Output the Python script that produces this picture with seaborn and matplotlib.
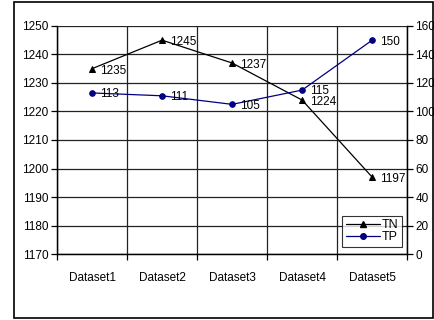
import matplotlib
matplotlib.use("Agg")
import matplotlib.pyplot as plt
from matplotlib.lines import Line2D
from matplotlib.patches import Rectangle
import seaborn as sns
import pandas as pd

datasets = ["Dataset1", "Dataset2", "Dataset3", "Dataset4", "Dataset5"]
tn_values = [1235, 1245, 1237, 1224, 1197]
tp_values = [113, 111, 105, 115, 150]
left_ticks = [1170, 1180, 1190, 1200, 1210, 1220, 1230, 1240, 1250]
right_ticks = [0, 20, 40, 60, 80, 100, 120, 140, 160]

sns.set_theme(style="white")
plt.rcParams["font.family"] = ["Liberation Sans", "DejaVu Sans"]
plt.rcParams["text.color"] = "black"
plt.rcParams["xtick.color"] = "black"
plt.rcParams["ytick.color"] = "black"

tn_color = "black"
tp_color = "#000080"
grid_color = "#222222"
fs = 8.5

df = pd.DataFrame({"pos": range(len(datasets)), "Dataset": datasets,
                   "TN": tn_values, "TP": tp_values})

fig = plt.figure(figsize=(4.35, 3.2), dpi=100)
ax = fig.add_axes([0.131, 0.206, 0.805, 0.713])
ax2 = ax.twinx()

# Grid: horizontal lines at each left tick, vertical lines between categories
ax.set_ylim(1170, 1250)
ax.set_yticks(left_ticks)
ax.set_xlim(-0.5, len(datasets) - 0.5)
ax.set_xticks(range(len(datasets)))
ax.set_xticklabels(datasets)
ax.set_xticks([i - 0.5 for i in range(len(datasets) + 1)], minor=True)
ax.grid(False)
for y in left_ticks:
    ax.axhline(y, color=grid_color, lw=0.9, zorder=0)
for x in range(len(datasets) + 1):
    ax.axvline(x - 0.5, color=grid_color, lw=0.9, zorder=0)

sns.lineplot(data=df, x="pos", y="TN", ax=ax, color=tn_color, lw=0.9,
             marker="^", markersize=4.5, markeredgecolor=tn_color, legend=False)
sns.lineplot(data=df, x="pos", y="TP", ax=ax2, color=tp_color, lw=0.9,
             marker="o", markersize=4, markeredgecolor=tp_color, legend=False)

ax2.set_ylim(0, 160)
ax2.set_yticks(right_ticks)

for i, v in enumerate(tn_values):
    ax.annotate(str(v), (i, v), xytext=(5.5, -1.5), textcoords="offset points",
                fontsize=fs, va="center", ha="left", color="black")
for i, v in enumerate(tp_values):
    ax2.annotate(str(v), (i, v), xytext=(5.5, -1), textcoords="offset points",
                 fontsize=fs, va="center", ha="left", color="black")

ax.set_xlabel("")
ax.set_ylabel("")
ax2.set_xlabel("")
ax2.set_ylabel("")

ax.tick_params(axis="x", which="major", length=0, pad=13, labelsize=fs,
               labelcolor="black")
ax.tick_params(axis="x", which="minor", length=4, width=0.9, color="black",
               direction="out", bottom=True)
ax.tick_params(axis="y", length=4, width=0.9, color="black", direction="out",
               left=True, labelsize=fs, pad=2, labelcolor="black")
ax2.tick_params(axis="y", length=4, width=0.9, color="black", direction="out",
                right=True, labelsize=fs, pad=2, labelcolor="black")

for a in (ax, ax2):
    for s in a.spines.values():
        s.set_color("black")
        s.set_linewidth(0.9)
    a.spines["top"].set_visible(False)

handles = [
    Line2D([], [], color=tn_color, lw=0.9, marker="^", markersize=4.5),
    Line2D([], [], color=tp_color, lw=0.9, marker="o", markersize=4),
]
leg = ax2.legend(handles, ["TN", "TP"], loc="lower right",
                 bbox_to_anchor=(0.985, 0.03), fontsize=fs + 0.5,
                 frameon=True, fancybox=False, handlelength=2.7,
                 handletextpad=0.15, borderpad=0.3, labelspacing=0.0,
                 borderaxespad=0)
leg.get_frame().set_edgecolor("black")
leg.get_frame().set_linewidth(0.8)
for t in leg.get_texts():
    t.set_color("black")

fig.patches.append(Rectangle((14 / 435, 2 / 320), 419 / 435, 316 / 320,
                             transform=fig.transFigure, fill=False,
                             edgecolor="black", lw=1.2))

fig.savefig("out.png", dpi=100)
